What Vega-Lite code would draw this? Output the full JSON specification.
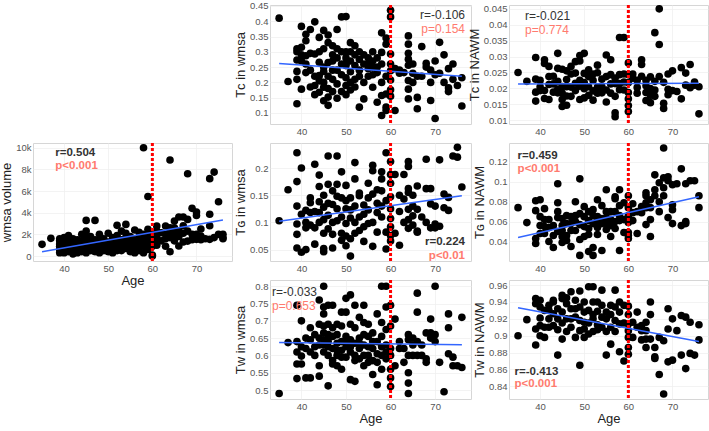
{
"$schema":"https://vega.github.io/schema/vega-lite/v6.json",
"background":"white",
"autosize":{"type":"pad"},
"padding":{"left":0,"top":0,"right":0,"bottom":0},
"datasets":{
"A":[{"age":35,"v":1080},{"age":37,"v":1630},{"age":39,"v":1400},{"age":39,"v":900},{"age":39,"v":600},{"age":39,"v":300},{"age":39,"v":1100},{"age":40,"v":1700},{"age":40,"v":1200},{"age":40,"v":800},{"age":40,"v":500},{"age":40,"v":300},{"age":41,"v":1900},{"age":41,"v":1000},{"age":41,"v":700},{"age":41,"v":400},{"age":42,"v":1300},{"age":42,"v":600},{"age":42,"v":200},{"age":43,"v":1500},{"age":43,"v":1000},{"age":43,"v":500},{"age":43,"v":300},{"age":44,"v":2000},{"age":44,"v":1400},{"age":44,"v":800},{"age":44,"v":400},{"age":44,"v":1100},{"age":45,"v":3290},{"age":45,"v":2300},{"age":45,"v":1700},{"age":45,"v":1200},{"age":45,"v":700},{"age":45,"v":300},{"age":46,"v":1800},{"age":46,"v":1100},{"age":46,"v":500},{"age":47,"v":3290},{"age":47,"v":1500},{"age":47,"v":900},{"age":47,"v":400},{"age":48,"v":1200},{"age":48,"v":2000},{"age":48,"v":700},{"age":48,"v":300},{"age":49,"v":1600},{"age":49,"v":1000},{"age":49,"v":500},{"age":50,"v":2100},{"age":50,"v":1300},{"age":50,"v":800},{"age":50,"v":400},{"age":51,"v":1700},{"age":51,"v":1100},{"age":51,"v":600},{"age":51,"v":300},{"age":52,"v":2830},{"age":52,"v":1900},{"age":52,"v":1400},{"age":52,"v":800},{"age":53,"v":1500},{"age":53,"v":1000},{"age":53,"v":500},{"age":54,"v":2920},{"age":54,"v":2100},{"age":54,"v":1700},{"age":54,"v":1200},{"age":54,"v":700},{"age":55,"v":1800},{"age":55,"v":1080},{"age":55,"v":400},{"age":56,"v":2400},{"age":56,"v":1500},{"age":56,"v":920},{"age":56,"v":300},{"age":56,"v":460},{"age":57,"v":1690},{"age":57,"v":2200},{"age":57,"v":1200},{"age":57,"v":500},{"age":58,"v":10000},{"age":58,"v":2000},{"age":58,"v":1500},{"age":58,"v":900},{"age":58,"v":300},{"age":59,"v":5500},{"age":59,"v":2460},{"age":59,"v":1800},{"age":59,"v":1100},{"age":59,"v":600},{"age":60,"v":2100},{"age":60,"v":1500},{"age":60,"v":90},{"age":60,"v":0},{"age":60,"v":900},{"age":61,"v":2770},{"age":61,"v":2300},{"age":61,"v":1700},{"age":61,"v":1000},{"age":62,"v":2150},{"age":62,"v":1400},{"age":63,"v":2770},{"age":63,"v":1600},{"age":63,"v":900},{"age":64,"v":8860},{"age":64,"v":2310},{"age":64,"v":2610},{"age":64,"v":400},{"age":64,"v":1700},{"age":65,"v":3230},{"age":65,"v":2600},{"age":65,"v":1400},{"age":66,"v":3600},{"age":66,"v":2300},{"age":66,"v":920},{"age":66,"v":1800},{"age":67,"v":3600},{"age":67,"v":2100},{"age":67,"v":1300},{"age":68,"v":7600},{"age":68,"v":3380},{"age":68,"v":2300},{"age":68,"v":1380},{"age":69,"v":4400},{"age":69,"v":2000},{"age":70,"v":4060},{"age":70,"v":3750},{"age":70,"v":2000},{"age":70,"v":1540},{"age":71,"v":1850},{"age":71,"v":2500},{"age":72,"v":1600},{"age":73,"v":7140},{"age":73,"v":3850},{"age":73,"v":2800},{"age":73,"v":1540},{"age":74,"v":7750},{"age":74,"v":1700},{"age":75,"v":5015},{"age":75,"v":2000},{"age":76,"v":1700},{"age":76,"v":2000},{"age":76,"v":1600},{"age":39,"v":1600},{"age":40,"v":1000},{"age":41,"v":1300},{"age":42,"v":900},{"age":42,"v":1600},{"age":43,"v":700},{"age":44,"v":600},{"age":45,"v":1000},{"age":45,"v":500},{"age":46,"v":1400},{"age":46,"v":800},{"age":47,"v":1200},{"age":47,"v":600},{"age":48,"v":1000},{"age":48,"v":1500},{"age":49,"v":1300},{"age":49,"v":700},{"age":50,"v":1000},{"age":50,"v":600},{"age":51,"v":1400},{"age":52,"v":1100},{"age":52,"v":500},{"age":53,"v":1300},{"age":53,"v":2300},{"age":54,"v":1000},{"age":55,"v":1400},{"age":55,"v":700},{"age":56,"v":1200},{"age":57,"v":900},{"age":58,"v":1200},{"age":59,"v":1400},{"age":61,"v":1300},{"age":63,"v":2000},{"age":65,"v":2000},{"age":67,"v":2800},{"age":69,"v":1500},{"age":71,"v":1500}],
"B":[{"age":35,"v":0.41},{"age":37,"v":0.203},{"age":39,"v":0.13},{"age":39,"v":0.21},{"age":39,"v":0.236},{"age":39,"v":0.273},{"age":39,"v":0.31},{"age":39,"v":0.3},{"age":40,"v":0.383},{"age":40,"v":0.27},{"age":40,"v":0.178},{"age":40,"v":0.315},{"age":41,"v":0.336},{"age":41,"v":0.357},{"age":41,"v":0.287},{"age":41,"v":0.232},{"age":42,"v":0.373},{"age":42,"v":0.295},{"age":42,"v":0.185},{"age":43,"v":0.293},{"age":43,"v":0.19},{"age":43,"v":0.398},{"age":43,"v":0.16},{"age":44,"v":0.347},{"age":44,"v":0.266},{"age":44,"v":0.222},{"age":44,"v":0.168},{"age":44,"v":0.205},{"age":45,"v":0.31},{"age":45,"v":0.25},{"age":45,"v":0.14},{"age":45,"v":0.184},{"age":45,"v":0.236},{"age":45,"v":0.37},{"age":46,"v":0.265},{"age":46,"v":0.125},{"age":46,"v":0.152},{"age":46,"v":0.33},{"age":46,"v":0.355},{"age":47,"v":0.29},{"age":47,"v":0.17},{"age":47,"v":0.21},{"age":47,"v":0.32},{"age":47,"v":0.24},{"age":48,"v":0.373},{"age":48,"v":0.28},{"age":48,"v":0.148},{"age":48,"v":0.195},{"age":49,"v":0.414},{"age":49,"v":0.3},{"age":49,"v":0.225},{"age":49,"v":0.17},{"age":50,"v":0.415},{"age":50,"v":0.255},{"age":50,"v":0.262},{"age":50,"v":0.16},{"age":50,"v":0.19},{"age":50,"v":0.28},{"age":50,"v":0.215},{"age":51,"v":0.235},{"age":51,"v":0.3},{"age":51,"v":0.2},{"age":51,"v":0.175},{"age":51,"v":0.33},{"age":52,"v":0.29},{"age":52,"v":0.255},{"age":52,"v":0.21},{"age":52,"v":0.185},{"age":53,"v":0.119},{"age":53,"v":0.3},{"age":53,"v":0.275},{"age":53,"v":0.24},{"age":54,"v":0.146},{"age":54,"v":0.26},{"age":54,"v":0.29},{"age":55,"v":0.245},{"age":55,"v":0.22},{"age":55,"v":0.26},{"age":56,"v":0.184},{"age":56,"v":0.3},{"age":56,"v":0.27},{"age":56,"v":0.225},{"age":57,"v":0.135},{"age":57,"v":0.232},{"age":57,"v":0.25},{"age":58,"v":0.092},{"age":58,"v":0.298},{"age":58,"v":0.2},{"age":58,"v":0.157},{"age":58,"v":0.362},{"age":59,"v":0.325},{"age":59,"v":0.162},{"age":59,"v":0.119},{"age":59,"v":0.108},{"age":59,"v":0.345},{"age":59,"v":0.22},{"age":60,"v":0.436},{"age":60,"v":0.414},{"age":60,"v":0.293},{"age":60,"v":0.26},{"age":60,"v":0.238},{"age":60,"v":0.208},{"age":60,"v":0.176},{"age":60,"v":0.155},{"age":61,"v":0.108},{"age":61,"v":0.245},{"age":62,"v":0.23},{"age":63,"v":0.232},{"age":64,"v":0.352},{"age":64,"v":0.325},{"age":64,"v":0.295},{"age":64,"v":0.276},{"age":64,"v":0.256},{"age":64,"v":0.206},{"age":64,"v":0.178},{"age":64,"v":0.146},{"age":65,"v":0.23},{"age":65,"v":0.26},{"age":66,"v":0.114},{"age":66,"v":0.151},{"age":66,"v":0.22},{"age":67,"v":0.317},{"age":68,"v":0.25},{"age":68,"v":0.262},{"age":69,"v":0.141},{"age":69,"v":0.24},{"age":69,"v":0.2},{"age":70,"v":0.27},{"age":70,"v":0.082},{"age":70,"v":0.225},{"age":71,"v":0.331},{"age":72,"v":0.29},{"age":73,"v":0.245},{"age":73,"v":0.17},{"age":73,"v":0.182},{"age":74,"v":0.26},{"age":74,"v":0.21},{"age":75,"v":0.19},{"age":76,"v":0.215},{"age":76,"v":0.123},{"age":40,"v":0.29},{"age":41,"v":0.26},{"age":42,"v":0.24},{"age":43,"v":0.22},{"age":44,"v":0.3},{"age":45,"v":0.2},{"age":46,"v":0.22},{"age":46,"v":0.18},{"age":47,"v":0.27},{"age":48,"v":0.24},{"age":48,"v":0.31},{"age":49,"v":0.26},{"age":50,"v":0.3},{"age":51,"v":0.27},{"age":52,"v":0.32},{"age":53,"v":0.22},{"age":54,"v":0.2},{"age":55,"v":0.28},{"age":56,"v":0.25},{"age":57,"v":0.28},{"age":58,"v":0.26},{"age":62,"v":0.24},{"age":65,"v":0.2},{"age":67,"v":0.22},{"age":71,"v":0.23},{"age":72,"v":0.2}],
"C":[{"age":35,"v":0.025},{"age":37,"v":0.0222},{"age":39,"v":0.0297},{"age":39,"v":0.0229},{"age":39,"v":0.0188},{"age":39,"v":0.016},{"age":40,"v":0.0225},{"age":40,"v":0.0193},{"age":41,"v":0.029},{"age":41,"v":0.0278},{"age":41,"v":0.0193},{"age":41,"v":0.0168},{"age":42,"v":0.0269},{"age":42,"v":0.0237},{"age":42,"v":0.0165},{"age":43,"v":0.0214},{"age":43,"v":0.0188},{"age":44,"v":0.031},{"age":44,"v":0.0263},{"age":44,"v":0.0222},{"age":44,"v":0.0186},{"age":45,"v":0.0165},{"age":45,"v":0.0143},{"age":45,"v":0.0206},{"age":45,"v":0.026},{"age":46,"v":0.0176},{"age":46,"v":0.0228},{"age":46,"v":0.0147},{"age":47,"v":0.0269},{"age":47,"v":0.0204},{"age":47,"v":0.0245},{"age":48,"v":0.0284},{"age":48,"v":0.0216},{"age":48,"v":0.0248},{"age":49,"v":0.0303},{"age":49,"v":0.0286},{"age":49,"v":0.0207},{"age":49,"v":0.0165},{"age":50,"v":0.0247},{"age":50,"v":0.031},{"age":50,"v":0.0199},{"age":51,"v":0.0237},{"age":51,"v":0.0178},{"age":51,"v":0.0258},{"age":52,"v":0.0225},{"age":52,"v":0.0192},{"age":52,"v":0.0163},{"age":53,"v":0.0249},{"age":53,"v":0.0204},{"age":53,"v":0.0273},{"age":54,"v":0.0186},{"age":54,"v":0.0229},{"age":55,"v":0.0157},{"age":55,"v":0.0237},{"age":55,"v":0.0305},{"age":56,"v":0.029},{"age":56,"v":0.0214},{"age":56,"v":0.0243},{"age":57,"v":0.0123},{"age":57,"v":0.0111},{"age":57,"v":0.0215},{"age":57,"v":0.0175},{"age":58,"v":0.0243},{"age":58,"v":0.0196},{"age":58,"v":0.036},{"age":59,"v":0.0245},{"age":59,"v":0.036},{"age":59,"v":0.022},{"age":60,"v":0.028},{"age":60,"v":0.0243},{"age":60,"v":0.0218},{"age":60,"v":0.0187},{"age":60,"v":0.0167},{"age":60,"v":0.0146},{"age":60,"v":0.0127},{"age":61,"v":0.0245},{"age":61,"v":0.0232},{"age":62,"v":0.0203},{"age":62,"v":0.0225},{"age":63,"v":0.0238},{"age":63,"v":0.029},{"age":63,"v":0.0275},{"age":64,"v":0.0187},{"age":64,"v":0.0162},{"age":64,"v":0.0208},{"age":65,"v":0.0178},{"age":65,"v":0.0199},{"age":65,"v":0.0236},{"age":65,"v":0.0155},{"age":66,"v":0.0375},{"age":66,"v":0.0195},{"age":66,"v":0.0175},{"age":67,"v":0.045},{"age":67,"v":0.0338},{"age":67,"v":0.0237},{"age":68,"v":0.0153},{"age":68,"v":0.0137},{"age":68,"v":0.0219},{"age":69,"v":0.0245},{"age":69,"v":0.0197},{"age":70,"v":0.0255},{"age":70,"v":0.0193},{"age":71,"v":0.019},{"age":72,"v":0.0265},{"age":72,"v":0.0167},{"age":73,"v":0.021},{"age":73,"v":0.0248},{"age":74,"v":0.0202},{"age":74,"v":0.0275},{"age":75,"v":0.022},{"age":75,"v":0.021},{"age":76,"v":0.0205},{"age":76,"v":0.012},{"age":40,"v":0.0205},{"age":42,"v":0.0212},{"age":43,"v":0.0238},{"age":44,"v":0.0198},{"age":45,"v":0.0185},{"age":46,"v":0.0205},{"age":46,"v":0.0255},{"age":47,"v":0.0175},{"age":48,"v":0.0193},{"age":49,"v":0.0225},{"age":50,"v":0.0218},{"age":50,"v":0.017},{"age":51,"v":0.0205},{"age":52,"v":0.0245},{"age":53,"v":0.0185},{"age":54,"v":0.0205},{"age":55,"v":0.0195},{"age":56,"v":0.0185},{"age":57,"v":0.0232},{"age":58,"v":0.0215},{"age":59,"v":0.0195},{"age":62,"v":0.0185},{"age":64,"v":0.0225},{"age":66,"v":0.0222},{"age":69,"v":0.018}],
"D":[{"age":35,"v":0.103},{"age":37,"v":0.16},{"age":39,"v":0.228},{"age":39,"v":0.175},{"age":39,"v":0.13},{"age":39,"v":0.097},{"age":39,"v":0.078},{"age":39,"v":0.053},{"age":40,"v":0.2},{"age":40,"v":0.115},{"age":40,"v":0.045},{"age":41,"v":0.1},{"age":41,"v":0.05},{"age":41,"v":0.09},{"age":42,"v":0.136},{"age":42,"v":0.118},{"age":42,"v":0.145},{"age":43,"v":0.207},{"age":43,"v":0.06},{"age":43,"v":0.12},{"age":44,"v":0.187},{"age":44,"v":0.166},{"age":44,"v":0.138},{"age":44,"v":0.1},{"age":45,"v":0.08},{"age":45,"v":0.128},{"age":45,"v":0.052},{"age":45,"v":0.046},{"age":45,"v":0.15},{"age":46,"v":0.222},{"age":46,"v":0.113},{"age":46,"v":0.17},{"age":46,"v":0.088},{"age":47,"v":0.053},{"age":47,"v":0.158},{"age":47,"v":0.133},{"age":48,"v":0.222},{"age":48,"v":0.103},{"age":48,"v":0.17},{"age":48,"v":0.148},{"age":49,"v":0.067},{"age":49,"v":0.193},{"age":49,"v":0.08},{"age":50,"v":0.125},{"age":50,"v":0.168},{"age":50,"v":0.075},{"age":50,"v":0.057},{"age":51,"v":0.145},{"age":51,"v":0.108},{"age":51,"v":0.038},{"age":51,"v":0.07},{"age":51,"v":0.123},{"age":52,"v":0.18},{"age":52,"v":0.21},{"age":52,"v":0.08},{"age":53,"v":0.149},{"age":53,"v":0.11},{"age":53,"v":0.154},{"age":54,"v":0.065},{"age":54,"v":0.092},{"age":54,"v":0.132},{"age":55,"v":0.172},{"age":55,"v":0.123},{"age":55,"v":0.098},{"age":56,"v":0.195},{"age":56,"v":0.056},{"age":56,"v":0.205},{"age":56,"v":0.152},{"age":57,"v":0.118},{"age":57,"v":0.082},{"age":57,"v":0.135},{"age":58,"v":0.18},{"age":58,"v":0.11},{"age":58,"v":0.193},{"age":58,"v":0.158},{"age":59,"v":0.228},{"age":59,"v":0.082},{"age":59,"v":0.051},{"age":59,"v":0.14},{"age":60,"v":0.212},{"age":60,"v":0.188},{"age":60,"v":0.172},{"age":60,"v":0.147},{"age":60,"v":0.125},{"age":60,"v":0.107},{"age":60,"v":0.092},{"age":60,"v":0.076},{"age":60,"v":0.066},{"age":61,"v":0.188},{"age":61,"v":0.08},{"age":62,"v":0.058},{"age":62,"v":0.15},{"age":63,"v":0.188},{"age":63,"v":0.143},{"age":64,"v":0.212},{"age":64,"v":0.203},{"age":64,"v":0.162},{"age":64,"v":0.155},{"age":64,"v":0.124},{"age":64,"v":0.105},{"age":64,"v":0.089},{"age":65,"v":0.095},{"age":65,"v":0.13},{"age":65,"v":0.112},{"age":66,"v":0.084},{"age":66,"v":0.167},{"age":66,"v":0.124},{"age":66,"v":0.082},{"age":68,"v":0.216},{"age":68,"v":0.1},{"age":68,"v":0.162},{"age":69,"v":0.09},{"age":69,"v":0.162},{"age":69,"v":0.134},{"age":70,"v":0.097},{"age":70,"v":0.09},{"age":71,"v":0.093},{"age":71,"v":0.215},{"age":72,"v":0.127},{"age":72,"v":0.152},{"age":73,"v":0.122},{"age":73,"v":0.146},{"age":74,"v":0.222},{"age":75,"v":0.238},{"age":75,"v":0.22},{"age":76,"v":0.165},{"age":41,"v":0.122},{"age":42,"v":0.095},{"age":43,"v":0.09},{"age":44,"v":0.118},{"age":45,"v":0.105},{"age":46,"v":0.135},{"age":47,"v":0.1},{"age":47,"v":0.078},{"age":48,"v":0.125},{"age":49,"v":0.145},{"age":49,"v":0.11},{"age":50,"v":0.098},{"age":50,"v":0.14},{"age":52,"v":0.1},{"age":52,"v":0.13},{"age":53,"v":0.085},{"age":54,"v":0.115},{"age":55,"v":0.145},{"age":56,"v":0.1},{"age":57,"v":0.16},{"age":58,"v":0.13},{"age":62,"v":0.12},{"age":63,"v":0.1},{"age":65,"v":0.15},{"age":67,"v":0.11},{"age":70,"v":0.13}],
"E":[{"age":35,"v":0.074},{"age":37,"v":0.059},{"age":39,"v":0.081},{"age":39,"v":0.071},{"age":39,"v":0.038},{"age":39,"v":0.043},{"age":40,"v":0.082},{"age":40,"v":0.056},{"age":40,"v":0.065},{"age":41,"v":0.048},{"age":41,"v":0.073},{"age":41,"v":0.062},{"age":42,"v":0.04},{"age":42,"v":0.054},{"age":43,"v":0.046},{"age":43,"v":0.034},{"age":44,"v":0.098},{"age":44,"v":0.079},{"age":44,"v":0.07},{"age":44,"v":0.064},{"age":45,"v":0.056},{"age":45,"v":0.039},{"age":45,"v":0.051},{"age":45,"v":0.063},{"age":46,"v":0.041},{"age":46,"v":0.046},{"age":46,"v":0.058},{"age":47,"v":0.065},{"age":47,"v":0.035},{"age":47,"v":0.051},{"age":48,"v":0.06},{"age":48,"v":0.08},{"age":48,"v":0.066},{"age":49,"v":0.042},{"age":49,"v":0.103},{"age":49,"v":0.026},{"age":49,"v":0.057},{"age":50,"v":0.065},{"age":50,"v":0.045},{"age":50,"v":0.075},{"age":51,"v":0.053},{"age":51,"v":0.061},{"age":51,"v":0.07},{"age":51,"v":0.03},{"age":52,"v":0.034},{"age":52,"v":0.026},{"age":52,"v":0.058},{"age":53,"v":0.065},{"age":53,"v":0.082},{"age":53,"v":0.047},{"age":53,"v":0.061},{"age":54,"v":0.076},{"age":54,"v":0.063},{"age":54,"v":0.031},{"age":55,"v":0.052},{"age":55,"v":0.058},{"age":55,"v":0.07},{"age":55,"v":0.092},{"age":56,"v":0.056},{"age":56,"v":0.062},{"age":56,"v":0.045},{"age":57,"v":0.085},{"age":57,"v":0.083},{"age":57,"v":0.053},{"age":57,"v":0.07},{"age":58,"v":0.031},{"age":58,"v":0.061},{"age":58,"v":0.092},{"age":58,"v":0.076},{"age":59,"v":0.049},{"age":59,"v":0.079},{"age":60,"v":0.086},{"age":60,"v":0.074},{"age":60,"v":0.066},{"age":60,"v":0.059},{"age":60,"v":0.049},{"age":60,"v":0.046},{"age":60,"v":0.043},{"age":61,"v":0.061},{"age":61,"v":0.069},{"age":62,"v":0.048},{"age":62,"v":0.07},{"age":63,"v":0.069},{"age":64,"v":0.086},{"age":64,"v":0.079},{"age":64,"v":0.074},{"age":64,"v":0.057},{"age":64,"v":0.089},{"age":65,"v":0.074},{"age":65,"v":0.045},{"age":65,"v":0.062},{"age":66,"v":0.086},{"age":66,"v":0.092},{"age":66,"v":0.107},{"age":67,"v":0.07},{"age":67,"v":0.099},{"age":68,"v":0.094},{"age":68,"v":0.086},{"age":68,"v":0.104},{"age":68,"v":0.134},{"age":69,"v":0.105},{"age":69,"v":0.064},{"age":69,"v":0.101},{"age":70,"v":0.077},{"age":70,"v":0.058},{"age":70,"v":0.097},{"age":70,"v":0.072},{"age":71,"v":0.098},{"age":72,"v":0.113},{"age":72,"v":0.056},{"age":73,"v":0.058},{"age":73,"v":0.06},{"age":73,"v":0.098},{"age":74,"v":0.101},{"age":75,"v":0.101},{"age":76,"v":0.086},{"age":76,"v":0.074},{"age":40,"v":0.048},{"age":41,"v":0.055},{"age":42,"v":0.062},{"age":43,"v":0.056},{"age":44,"v":0.05},{"age":45,"v":0.045},{"age":46,"v":0.066},{"age":47,"v":0.058},{"age":48,"v":0.051},{"age":49,"v":0.068},{"age":50,"v":0.055},{"age":51,"v":0.047},{"age":52,"v":0.066},{"age":52,"v":0.072},{"age":53,"v":0.054},{"age":54,"v":0.058},{"age":55,"v":0.064},{"age":56,"v":0.07},{"age":57,"v":0.06},{"age":58,"v":0.066},{"age":59,"v":0.062},{"age":61,"v":0.078},{"age":63,"v":0.075},{"age":65,"v":0.082},{"age":67,"v":0.08}],
"F":[{"age":35,"v":0.49},{"age":37,"v":0.637},{"age":39,"v":0.745},{"age":39,"v":0.64},{"age":39,"v":0.61},{"age":39,"v":0.575},{"age":39,"v":0.533},{"age":40,"v":0.7},{"age":40,"v":0.625},{"age":40,"v":0.598},{"age":40,"v":0.575},{"age":41,"v":0.62},{"age":41,"v":0.535},{"age":42,"v":0.68},{"age":42,"v":0.645},{"age":42,"v":0.535},{"age":43,"v":0.6},{"age":43,"v":0.625},{"age":44,"v":0.76},{"age":44,"v":0.65},{"age":44,"v":0.63},{"age":44,"v":0.57},{"age":44,"v":0.54},{"age":45,"v":0.8},{"age":45,"v":0.74},{"age":45,"v":0.72},{"age":45,"v":0.685},{"age":45,"v":0.665},{"age":45,"v":0.645},{"age":45,"v":0.61},{"age":46,"v":0.745},{"age":46,"v":0.69},{"age":46,"v":0.66},{"age":46,"v":0.625},{"age":46,"v":0.6},{"age":46,"v":0.512},{"age":47,"v":0.745},{"age":47,"v":0.655},{"age":47,"v":0.585},{"age":47,"v":0.575},{"age":48,"v":0.69},{"age":48,"v":0.66},{"age":48,"v":0.635},{"age":48,"v":0.6},{"age":48,"v":0.57},{"age":49,"v":0.725},{"age":49,"v":0.685},{"age":49,"v":0.64},{"age":49,"v":0.615},{"age":49,"v":0.56},{"age":50,"v":0.765},{"age":50,"v":0.725},{"age":50,"v":0.655},{"age":50,"v":0.625},{"age":50,"v":0.595},{"age":51,"v":0.775},{"age":51,"v":0.69},{"age":51,"v":0.645},{"age":51,"v":0.61},{"age":51,"v":0.53},{"age":52,"v":0.745},{"age":52,"v":0.68},{"age":52,"v":0.635},{"age":52,"v":0.585},{"age":52,"v":0.525},{"age":53,"v":0.71},{"age":53,"v":0.65},{"age":53,"v":0.62},{"age":53,"v":0.59},{"age":54,"v":0.745},{"age":54,"v":0.695},{"age":54,"v":0.66},{"age":54,"v":0.6},{"age":54,"v":0.57},{"age":55,"v":0.69},{"age":55,"v":0.625},{"age":55,"v":0.58},{"age":56,"v":0.665},{"age":56,"v":0.62},{"age":56,"v":0.585},{"age":56,"v":0.545},{"age":57,"v":0.72},{"age":57,"v":0.64},{"age":57,"v":0.605},{"age":57,"v":0.515},{"age":58,"v":0.8},{"age":58,"v":0.695},{"age":58,"v":0.655},{"age":58,"v":0.6},{"age":58,"v":0.56},{"age":59,"v":0.8},{"age":59,"v":0.74},{"age":59,"v":0.675},{"age":59,"v":0.63},{"age":59,"v":0.59},{"age":60,"v":0.745},{"age":60,"v":0.685},{"age":60,"v":0.62},{"age":60,"v":0.6},{"age":60,"v":0.56},{"age":60,"v":0.535},{"age":60,"v":0.51},{"age":61,"v":0.705},{"age":61,"v":0.57},{"age":62,"v":0.62},{"age":63,"v":0.58},{"age":64,"v":0.66},{"age":64,"v":0.645},{"age":64,"v":0.6},{"age":64,"v":0.55},{"age":64,"v":0.52},{"age":64,"v":0.49},{"age":65,"v":0.65},{"age":65,"v":0.6},{"age":66,"v":0.78},{"age":66,"v":0.725},{"age":66,"v":0.64},{"age":66,"v":0.6},{"age":67,"v":0.6},{"age":68,"v":0.665},{"age":68,"v":0.59},{"age":68,"v":0.58},{"age":69,"v":0.705},{"age":69,"v":0.665},{"age":69,"v":0.65},{"age":70,"v":0.8},{"age":70,"v":0.66},{"age":70,"v":0.64},{"age":71,"v":0.58},{"age":72,"v":0.495},{"age":73,"v":0.72},{"age":73,"v":0.68},{"age":73,"v":0.605},{"age":74,"v":0.595},{"age":74,"v":0.57},{"age":75,"v":0.57},{"age":76,"v":0.71},{"age":76,"v":0.565},{"age":41,"v":0.65},{"age":42,"v":0.61},{"age":43,"v":0.66},{"age":44,"v":0.69},{"age":45,"v":0.63},{"age":46,"v":0.64},{"age":47,"v":0.62},{"age":47,"v":0.68},{"age":48,"v":0.615},{"age":49,"v":0.595},{"age":50,"v":0.64},{"age":51,"v":0.625},{"age":52,"v":0.6},{"age":53,"v":0.635},{"age":54,"v":0.63},{"age":55,"v":0.655},{"age":55,"v":0.6},{"age":56,"v":0.64},{"age":57,"v":0.58},{"age":58,"v":0.625},{"age":59,"v":0.61},{"age":62,"v":0.64},{"age":63,"v":0.62},{"age":65,"v":0.63},{"age":67,"v":0.63}],
"G":[{"age":35,"v":0.9},{"age":37,"v":0.919},{"age":39,"v":0.944},{"age":39,"v":0.908},{"age":39,"v":0.889},{"age":39,"v":0.938},{"age":40,"v":0.942},{"age":40,"v":0.921},{"age":40,"v":0.9},{"age":40,"v":0.934},{"age":41,"v":0.91},{"age":41,"v":0.898},{"age":42,"v":0.93},{"age":42,"v":0.91},{"age":42,"v":0.936},{"age":43,"v":0.94},{"age":43,"v":0.942},{"age":43,"v":0.926},{"age":44,"v":0.877},{"age":44,"v":0.92},{"age":44,"v":0.907},{"age":45,"v":0.896},{"age":45,"v":0.944},{"age":45,"v":0.928},{"age":45,"v":0.948},{"age":46,"v":0.938},{"age":46,"v":0.92},{"age":47,"v":0.952},{"age":47,"v":0.91},{"age":47,"v":0.932},{"age":48,"v":0.942},{"age":48,"v":0.898},{"age":48,"v":0.922},{"age":49,"v":0.906},{"age":49,"v":0.865},{"age":49,"v":0.953},{"age":49,"v":0.934},{"age":50,"v":0.916},{"age":50,"v":0.898},{"age":50,"v":0.928},{"age":51,"v":0.958},{"age":51,"v":0.902},{"age":52,"v":0.958},{"age":52,"v":0.92},{"age":52,"v":0.94},{"age":52,"v":0.925},{"age":53,"v":0.907},{"age":53,"v":0.929},{"age":53,"v":0.913},{"age":54,"v":0.954},{"age":54,"v":0.936},{"age":54,"v":0.91},{"age":55,"v":0.92},{"age":55,"v":0.928},{"age":55,"v":0.877},{"age":56,"v":0.936},{"age":56,"v":0.91},{"age":56,"v":0.89},{"age":57,"v":0.918},{"age":57,"v":0.954},{"age":57,"v":0.934},{"age":58,"v":0.928},{"age":58,"v":0.914},{"age":58,"v":0.881},{"age":59,"v":0.87},{"age":59,"v":0.936},{"age":60,"v":0.935},{"age":60,"v":0.925},{"age":60,"v":0.914},{"age":60,"v":0.906},{"age":60,"v":0.898},{"age":60,"v":0.886},{"age":60,"v":0.878},{"age":61,"v":0.898},{"age":61,"v":0.916},{"age":62,"v":0.928},{"age":63,"v":0.912},{"age":63,"v":0.906},{"age":64,"v":0.916},{"age":64,"v":0.886},{"age":64,"v":0.896},{"age":64,"v":0.906},{"age":65,"v":0.94},{"age":65,"v":0.925},{"age":65,"v":0.896},{"age":66,"v":0.886},{"age":66,"v":0.873},{"age":66,"v":0.875},{"age":67,"v":0.854},{"age":67,"v":0.898},{"age":68,"v":0.894},{"age":68,"v":0.831},{"age":69,"v":0.908},{"age":69,"v":0.932},{"age":69,"v":0.869},{"age":70,"v":0.92},{"age":70,"v":0.871},{"age":71,"v":0.906},{"age":72,"v":0.877},{"age":72,"v":0.924},{"age":73,"v":0.861},{"age":73,"v":0.922},{"age":74,"v":0.916},{"age":74,"v":0.879},{"age":75,"v":0.877},{"age":76,"v":0.913},{"age":76,"v":0.895},{"age":40,"v":0.912},{"age":41,"v":0.93},{"age":42,"v":0.92},{"age":43,"v":0.912},{"age":44,"v":0.932},{"age":45,"v":0.915},{"age":46,"v":0.905},{"age":46,"v":0.945},{"age":47,"v":0.92},{"age":48,"v":0.932},{"age":49,"v":0.918},{"age":50,"v":0.94},{"age":50,"v":0.908},{"age":51,"v":0.93},{"age":51,"v":0.915},{"age":52,"v":0.905},{"age":53,"v":0.94},{"age":54,"v":0.922},{"age":55,"v":0.905},{"age":56,"v":0.925},{"age":57,"v":0.905},{"age":58,"v":0.94},{"age":59,"v":0.915},{"age":62,"v":0.91},{"age":63,"v":0.895}],
"fitA":[{"age":35,"v":400},{"age":76,"v":3330}],
"fitB":[{"age":35,"v":0.262},{"age":76,"v":0.22}],
"fitC":[{"age":35,"v":0.0214},{"age":76,"v":0.0216}],
"fitD":[{"age":35,"v":0.102},{"age":76,"v":0.149}],
"fitE":[{"age":35,"v":0.044},{"age":76,"v":0.085}],
"fitF":[{"age":35,"v":0.637},{"age":76,"v":0.631}],
"fitG":[{"age":35,"v":0.933},{"age":76,"v":0.893}],
"vline":[{"age":60}],
"annA":[{"age":38,"v":9500,"t":"r=0.504","k":"r"},{"age":38,"v":8300,"t":"p<0.001","k":"p"}],
"annB":[{"age":76.7,"v":0.421,"t":"r=-0.106","k":"r"},{"age":76.7,"v":0.375,"t":"p=0.154","k":"p"}],
"annC":[{"age":36.6,"v":0.0426,"t":"r=-0.021","k":"r"},{"age":36.6,"v":0.0382,"t":"p=0.774","k":"p"}],
"annD":[{"age":76.7,"v":0.0637,"t":"r=0.224","k":"r"},{"age":76.7,"v":0.0377,"t":"p<0.01","k":"p"}],
"annE":[{"age":34.9,"v":0.126,"t":"r=0.459","k":"r"},{"age":34.9,"v":0.1129,"t":"p<0.001","k":"p"}],
"annF":[{"age":33.4,"v":0.782,"t":"r=-0.033","k":"r"},{"age":33.4,"v":0.744,"t":"p=0.653","k":"p"}],
"annG":[{"age":34.2,"v":0.8566,"t":"r=-0.413","k":"r"},{"age":34.2,"v":0.8424,"t":"p<0.001","k":"p"}]
},
"columns":3,
"spacing":{"row":19,"column":38},
"bounds":"flush",
"concat":[
{"width":199,"height":119,"data":{"values":[{}]},"mark":{"type":"point","opacity":0},"view":{"stroke":null}},
{"width":201,"height":119,
 "encoding":{"x":{"field":"age","type":"quantitative","scale":{"domain":[32.95,78.05],"nice":false,"zero":false},"axis":{"title":null,"values":[40,50,60,70]}}},
 "layer":[
  {"data":{"name":"B"},"mark":{"type":"circle","size":58,"color":"#000000","opacity":1},"encoding":{"y":{"field":"v","type":"quantitative","scale":{"domain":[0.064,0.453],"nice":false,"zero":false},"axis":{"title":"Tᴄ in wmsa","values":[0.1,0.15,0.2,0.25,0.3,0.35,0.4,0.45],"format":"~g"}}}},
  {"data":{"name":"fitB"},"mark":{"type":"line","color":"#3366ff","strokeWidth":1.5},"encoding":{"y":{"field":"v","type":"quantitative","scale":{"domain":[0.064,0.453],"nice":false,"zero":false},"axis":{"title":"Tᴄ in wmsa","values":[0.1,0.15,0.2,0.25,0.3,0.35,0.4,0.45],"format":"~g"}}}},
  {"data":{"name":"vline"},"mark":{"type":"rule","color":"#ff0000","strokeDash":[3,2],"strokeWidth":3},"encoding":{}},
  {"data":{"name":"annB"},"mark":{"type":"text","align":"right","baseline":"middle","fontSize":12},"encoding":{"y":{"field":"v","type":"quantitative","scale":{"domain":[0.064,0.453],"nice":false,"zero":false},"axis":{"title":"Tᴄ in wmsa","values":[0.1,0.15,0.2,0.25,0.3,0.35,0.4,0.45],"format":"~g"}},"text":{"field":"t"},"color":{"field":"k","type":"nominal","scale":{"domain":["r","p"],"range":["#333333","#ff7a6e"]},"legend":null}}}
 ]},
{"width":199,"height":119,
 "encoding":{"x":{"field":"age","type":"quantitative","scale":{"domain":[32.95,78.05],"nice":false,"zero":false},"axis":{"title":null,"values":[40,50,60,70]}}},
 "layer":[
  {"data":{"name":"C"},"mark":{"type":"circle","size":58,"color":"#000000","opacity":1},"encoding":{"y":{"field":"v","type":"quantitative","scale":{"domain":[0.0088,0.0462],"nice":false,"zero":false},"axis":{"title":"Tᴄ in NAWM","values":[0.01,0.015,0.02,0.025,0.03,0.035,0.04,0.045],"format":"~g"}}}},
  {"data":{"name":"fitC"},"mark":{"type":"line","color":"#3366ff","strokeWidth":1.5},"encoding":{"y":{"field":"v","type":"quantitative","scale":{"domain":[0.0088,0.0462],"nice":false,"zero":false},"axis":{"title":"Tᴄ in NAWM","values":[0.01,0.015,0.02,0.025,0.03,0.035,0.04,0.045],"format":"~g"}}}},
  {"data":{"name":"vline"},"mark":{"type":"rule","color":"#ff0000","strokeDash":[3,2],"strokeWidth":3},"encoding":{}},
  {"data":{"name":"annC"},"mark":{"type":"text","align":"left","baseline":"middle","fontSize":12},"encoding":{"y":{"field":"v","type":"quantitative","scale":{"domain":[0.0088,0.0462],"nice":false,"zero":false},"axis":{"title":"Tᴄ in NAWM","values":[0.01,0.015,0.02,0.025,0.03,0.035,0.04,0.045],"format":"~g"}},"text":{"field":"t"},"color":{"field":"k","type":"nominal","scale":{"domain":["r","p"],"range":["#333333","#ff7a6e"]},"legend":null}}}
 ]},
{"width":199,"height":118,
 "encoding":{"x":{"field":"age","type":"quantitative","scale":{"domain":[32.95,78.05],"nice":false,"zero":false},"axis":{"title":"Age","values":[40,50,60,70]}}},
 "layer":[
  {"data":{"name":"A"},"mark":{"type":"circle","size":58,"color":"#000000","opacity":1},"encoding":{"y":{"field":"v","type":"quantitative","scale":{"domain":[-460,10434],"nice":false,"zero":false},"axis":{"title":"wmsa volume","values":[0,2000,4000,6000,8000,10000],"labelExpr":"datum.value == 0 ? '0' : (datum.value/1000) + 'k'"}}}},
  {"data":{"name":"fitA"},"mark":{"type":"line","color":"#3366ff","strokeWidth":1.5},"encoding":{"y":{"field":"v","type":"quantitative","scale":{"domain":[-460,10434],"nice":false,"zero":false},"axis":{"title":"wmsa volume","values":[0,2000,4000,6000,8000,10000],"labelExpr":"datum.value == 0 ? '0' : (datum.value/1000) + 'k'"}}}},
  {"data":{"name":"vline"},"mark":{"type":"rule","color":"#ff0000","strokeDash":[3,2],"strokeWidth":3},"encoding":{}},
  {"data":{"name":"annA"},"mark":{"type":"text","align":"left","baseline":"middle","fontSize":11.5,"fontWeight":"bold"},"encoding":{"y":{"field":"v","type":"quantitative","scale":{"domain":[-460,10434],"nice":false,"zero":false},"axis":{"title":"wmsa volume","values":[0,2000,4000,6000,8000,10000],"labelExpr":"datum.value == 0 ? '0' : (datum.value/1000) + 'k'"}},"text":{"field":"t"},"color":{"field":"k","type":"nominal","scale":{"domain":["r","p"],"range":["#111111","#ff6b5e"]},"legend":null}}}
 ]},
{"width":201,"height":118,
 "encoding":{"x":{"field":"age","type":"quantitative","scale":{"domain":[32.95,78.05],"nice":false,"zero":false},"axis":{"title":null,"values":[40,50,60,70]}}},
 "layer":[
  {"data":{"name":"D"},"mark":{"type":"circle","size":58,"color":"#000000","opacity":1},"encoding":{"y":{"field":"v","type":"quantitative","scale":{"domain":[0.029,0.246],"nice":false,"zero":false},"axis":{"title":"Tɢ in wmsa","values":[0.05,0.1,0.15,0.2],"format":"~g"}}}},
  {"data":{"name":"fitD"},"mark":{"type":"line","color":"#3366ff","strokeWidth":1.5},"encoding":{"y":{"field":"v","type":"quantitative","scale":{"domain":[0.029,0.246],"nice":false,"zero":false},"axis":{"title":"Tɢ in wmsa","values":[0.05,0.1,0.15,0.2],"format":"~g"}}}},
  {"data":{"name":"vline"},"mark":{"type":"rule","color":"#ff0000","strokeDash":[3,2],"strokeWidth":3},"encoding":{}},
  {"data":{"name":"annD"},"mark":{"type":"text","align":"right","baseline":"middle","fontSize":11.5,"fontWeight":"bold"},"encoding":{"y":{"field":"v","type":"quantitative","scale":{"domain":[0.029,0.246],"nice":false,"zero":false},"axis":{"title":"Tɢ in wmsa","values":[0.05,0.1,0.15,0.2],"format":"~g"}},"text":{"field":"t"},"color":{"field":"k","type":"nominal","scale":{"domain":["r","p"],"range":["#111111","#ff6b5e"]},"legend":null}}}
 ]},
{"width":199,"height":118,
 "encoding":{"x":{"field":"age","type":"quantitative","scale":{"domain":[32.95,78.05],"nice":false,"zero":false},"axis":{"title":null,"values":[40,50,60,70]}}},
 "layer":[
  {"data":{"name":"E"},"mark":{"type":"circle","size":58,"color":"#000000","opacity":1},"encoding":{"y":{"field":"v","type":"quantitative","scale":{"domain":[0.0204,0.139],"nice":false,"zero":false},"axis":{"title":"Tɢ in NAWM","values":[0.04,0.06,0.08,0.1,0.12],"format":"~g"}}}},
  {"data":{"name":"fitE"},"mark":{"type":"line","color":"#3366ff","strokeWidth":1.5},"encoding":{"y":{"field":"v","type":"quantitative","scale":{"domain":[0.0204,0.139],"nice":false,"zero":false},"axis":{"title":"Tɢ in NAWM","values":[0.04,0.06,0.08,0.1,0.12],"format":"~g"}}}},
  {"data":{"name":"vline"},"mark":{"type":"rule","color":"#ff0000","strokeDash":[3,2],"strokeWidth":3},"encoding":{}},
  {"data":{"name":"annE"},"mark":{"type":"text","align":"left","baseline":"middle","fontSize":11.5,"fontWeight":"bold"},"encoding":{"y":{"field":"v","type":"quantitative","scale":{"domain":[0.0204,0.139],"nice":false,"zero":false},"axis":{"title":"Tɢ in NAWM","values":[0.04,0.06,0.08,0.1,0.12],"format":"~g"}},"text":{"field":"t"},"color":{"field":"k","type":"nominal","scale":{"domain":["r","p"],"range":["#111111","#ff6b5e"]},"legend":null}}}
 ]},
{"width":199,"height":119,"data":{"values":[{}]},"mark":{"type":"point","opacity":0},"view":{"stroke":null}},
{"width":201,"height":119,
 "encoding":{"x":{"field":"age","type":"quantitative","scale":{"domain":[32.95,78.05],"nice":false,"zero":false},"axis":{"title":"Age","values":[40,50,60,70]}}},
 "layer":[
  {"data":{"name":"F"},"mark":{"type":"circle","size":58,"color":"#000000","opacity":1},"encoding":{"y":{"field":"v","type":"quantitative","scale":{"domain":[0.474,0.818],"nice":false,"zero":false},"axis":{"title":"Tᴡ in wmsa","values":[0.5,0.55,0.6,0.65,0.7,0.75,0.8],"format":"~g"}}}},
  {"data":{"name":"fitF"},"mark":{"type":"line","color":"#3366ff","strokeWidth":1.5},"encoding":{"y":{"field":"v","type":"quantitative","scale":{"domain":[0.474,0.818],"nice":false,"zero":false},"axis":{"title":"Tᴡ in wmsa","values":[0.5,0.55,0.6,0.65,0.7,0.75,0.8],"format":"~g"}}}},
  {"data":{"name":"vline"},"mark":{"type":"rule","color":"#ff0000","strokeDash":[3,2],"strokeWidth":3},"encoding":{}},
  {"data":{"name":"annF"},"mark":{"type":"text","align":"left","baseline":"middle","fontSize":12},"encoding":{"y":{"field":"v","type":"quantitative","scale":{"domain":[0.474,0.818],"nice":false,"zero":false},"axis":{"title":"Tᴡ in wmsa","values":[0.5,0.55,0.6,0.65,0.7,0.75,0.8],"format":"~g"}},"text":{"field":"t"},"color":{"field":"k","type":"nominal","scale":{"domain":["r","p"],"range":["#333333","#ff7a6e"]},"legend":null}}}
 ]},
{"width":199,"height":119,
 "encoding":{"x":{"field":"age","type":"quantitative","scale":{"domain":[32.95,78.05],"nice":false,"zero":false},"axis":{"title":"Age","values":[40,50,60,70]}}},
 "layer":[
  {"data":{"name":"G"},"mark":{"type":"circle","size":58,"color":"#000000","opacity":1},"encoding":{"y":{"field":"v","type":"quantitative","scale":{"domain":[0.825,0.966],"nice":false,"zero":false},"axis":{"title":"Tᴡ in NAWM","values":[0.84,0.86,0.88,0.9,0.92,0.94,0.96],"format":"~g"}}}},
  {"data":{"name":"fitG"},"mark":{"type":"line","color":"#3366ff","strokeWidth":1.5},"encoding":{"y":{"field":"v","type":"quantitative","scale":{"domain":[0.825,0.966],"nice":false,"zero":false},"axis":{"title":"Tᴡ in NAWM","values":[0.84,0.86,0.88,0.9,0.92,0.94,0.96],"format":"~g"}}}},
  {"data":{"name":"vline"},"mark":{"type":"rule","color":"#ff0000","strokeDash":[3,2],"strokeWidth":3},"encoding":{}},
  {"data":{"name":"annG"},"mark":{"type":"text","align":"left","baseline":"middle","fontSize":11.5,"fontWeight":"bold"},"encoding":{"y":{"field":"v","type":"quantitative","scale":{"domain":[0.825,0.966],"nice":false,"zero":false},"axis":{"title":"Tᴡ in NAWM","values":[0.84,0.86,0.88,0.9,0.92,0.94,0.96],"format":"~g"}},"text":{"field":"t"},"color":{"field":"k","type":"nominal","scale":{"domain":["r","p"],"range":["#111111","#ff6b5e"]},"legend":null}}}
 ]}
],
"config":{
 "font":"Liberation Sans",
 "view":{"stroke":"#d6d6d6","strokeWidth":1},
 "axis":{"labelFontSize":9.5,"labelColor":"#555555","titleFontSize":13,"titleFontWeight":"normal","titleColor":"#222222","ticks":false,"domain":false,"gridColor":"#eeeeee","gridWidth":0.7,"labelPadding":2,"titlePadding":2}
}
}
